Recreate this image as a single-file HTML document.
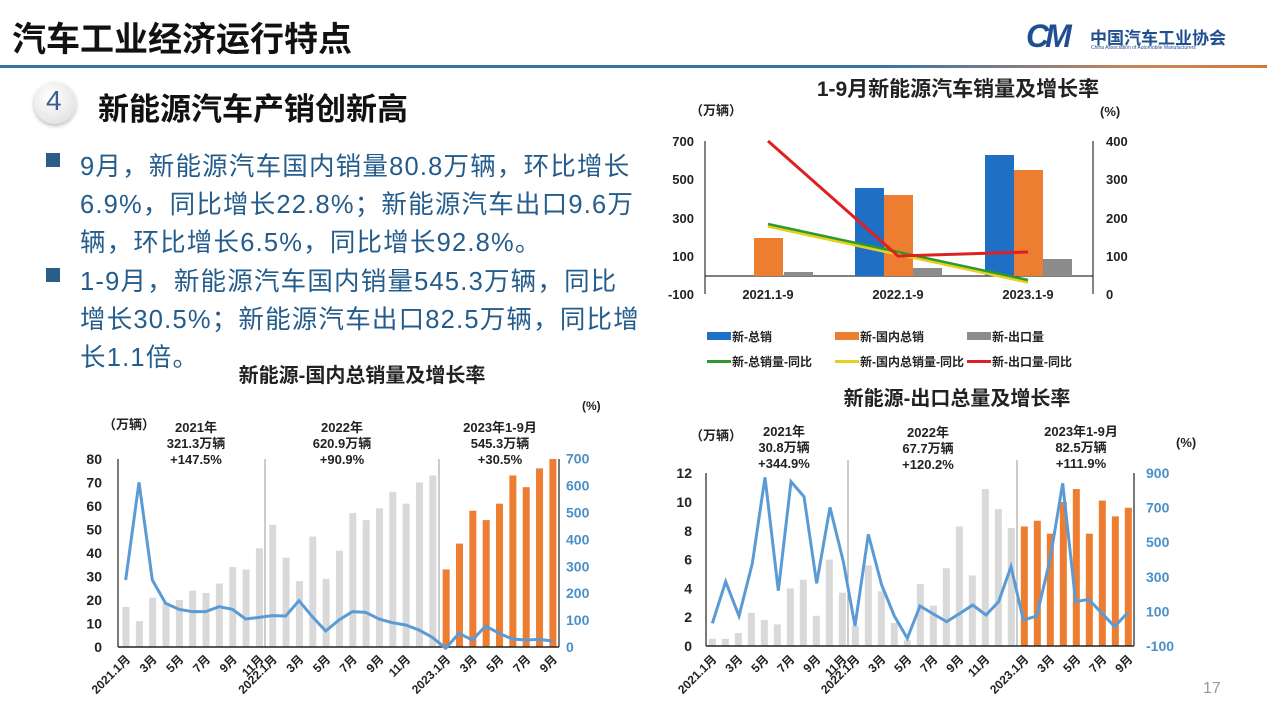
<!DOCTYPE html>
<html><head><meta charset="utf-8">
<style>
html,body{margin:0;padding:0;background:#fff;}
body{width:1267px;height:709px;overflow:hidden;position:relative;font-family:"Liberation Sans","Noto Sans CJK SC",sans-serif;}
.t{position:absolute;white-space:nowrap;}
.bl{font-size:25.5px;letter-spacing:1.2px;color:#245c8c;}
svg text{font-family:"Liberation Sans","Noto Sans CJK SC",sans-serif;}
</style></head><body>
<div class="t" style="left:12px;top:12px;font-size:34px;font-weight:bold;color:#111;">汽车工业经济运行特点</div>
<div style="position:absolute;left:0;top:65px;width:1267px;height:3px;background:linear-gradient(90deg,#3a73a8 0%,#3a73a8 70%,#c9855a 90%,#d07a3a 100%);"></div>
<div style="position:absolute;left:34px;top:82px;width:42px;height:42px;border-radius:50%;background:radial-gradient(circle at 40% 35%,#fff,#e6e6e6 70%,#cfcfcf);box-shadow:0 2px 4px #bbb;"></div>
<div class="t" style="left:46px;top:85px;font-size:28px;color:#3a5f8f;">4</div>
<div class="t" style="left:98px;top:84px;font-size:31px;font-weight:bold;color:#111;">新能源汽车产销创新高</div>
<div class="t" style="left:1026px;top:18px;font-size:32px;font-weight:bold;font-style:italic;letter-spacing:-4px;color:#1f4f8f;">CM</div>
<div class="t" style="left:1090px;top:24px;font-size:17px;font-weight:bold;color:#1f4f8f;">中国汽车工业协会</div>
<div class="t" style="left:1091px;top:45px;font-size:5px;color:#1f4f8f;">China Association of Automobile Manufacturers</div>

<div class="t" style="left:46px;top:153px;width:14px;height:14px;background:#2c5c88;"></div>
<div class="t bl" style="left:80px;top:146px;">9月，新能源汽车国内销量80.8万辆，环比增长</div>
<div class="t bl" style="left:80px;top:184px;">6.9%，同比增长22.8%；新能源汽车出口9.6万</div>
<div class="t bl" style="left:80px;top:222px;">辆，环比增长6.5%，同比增长92.8%。</div>
<div class="t" style="left:46px;top:268px;width:14px;height:14px;background:#2c5c88;"></div>
<div class="t bl" style="left:80px;top:261px;">1-9月，新能源汽车国内销量545.3万辆，同比</div>
<div class="t bl" style="left:80px;top:299px;">增长30.5%；新能源汽车出口82.5万辆，同比增</div>
<div class="t bl" style="left:80px;top:337px;">长1.1倍。</div>
<div class="t" style="left:1203px;top:680px;font-size:16px;color:#999;">17</div>

<svg id="s" width="1267" height="709" style="position:absolute;left:0;top:0" xmlns="http://www.w3.org/2000/svg">
<g font-weight="bold" fill="#222">
<text x="958" y="96" font-size="21" text-anchor="middle">1-9月新能源汽车销量及增长率</text>
<text x="690" y="115" font-size="13">（万辆）</text>
<text x="1100" y="116" font-size="13">(%)</text>
<g font-size="13" text-anchor="end">
<text x="694" y="146">700</text><text x="694" y="184">500</text><text x="694" y="223">300</text><text x="694" y="261">100</text><text x="694" y="299">-100</text></g>
<g font-size="13">
<text x="1106" y="146">400</text><text x="1106" y="184">300</text><text x="1106" y="223">200</text><text x="1106" y="261">100</text><text x="1106" y="299">0</text></g>
<g font-size="13" text-anchor="middle"><text x="768" y="299">2021.1-9</text><text x="898" y="299">2022.1-9</text><text x="1028" y="299">2023.1-9</text></g>
<g font-size="12">
<rect x="707" y="332" width="24" height="8" fill="#1f6fc5"/><text x="732" y="341">新-总销</text>
<rect x="835" y="332" width="24" height="8" fill="#ed7d31"/><text x="860" y="341">新-国内总销</text>
<rect x="967" y="332" width="24" height="8" fill="#8c8c8c"/><text x="992" y="341">新-出口量</text>
<rect x="707" y="360" width="24" height="3" fill="#2e9a2e"/><text x="732" y="366">新-总销量-同比</text>
<rect x="835" y="360" width="24" height="3" fill="#e5d020"/><text x="860" y="366">新-国内总销量-同比</text>
<rect x="967" y="360" width="24" height="3" fill="#e02020"/><text x="992" y="366">新-出口量-同比</text></g>

<text x="362" y="382" font-size="20" text-anchor="middle">新能源-国内总销量及增长率</text>
<text x="103" y="429" font-size="13">（万辆）</text>
<text x="582" y="410" font-size="12">(%)</text>
<g font-size="13" text-anchor="middle">
<text x="196" y="432">2021年</text><text x="196" y="448">321.3万辆</text><text x="196" y="464">+147.5%</text>
<text x="342" y="432">2022年</text><text x="342" y="448">620.9万辆</text><text x="342" y="464">+90.9%</text>
<text x="500" y="432">2023年1-9月</text><text x="500" y="448">545.3万辆</text><text x="500" y="464">+30.5%</text></g>
<g font-size="14" text-anchor="end" id="blL"></g>
<g font-size="14" fill="#4a90c8" id="blR"></g>
<g font-size="12" id="blX"></g>

<text x="957" y="405" font-size="20" text-anchor="middle">新能源-出口总量及增长率</text>
<text x="690" y="440" font-size="13">（万辆）</text>
<text x="1176" y="447" font-size="13">(%)</text>
<g font-size="13" text-anchor="middle">
<text x="784" y="436">2021年</text><text x="784" y="452">30.8万辆</text><text x="784" y="468">+344.9%</text>
<text x="928" y="437">2022年</text><text x="928" y="453">67.7万辆</text><text x="928" y="469">+120.2%</text>
<text x="1081" y="436">2023年1-9月</text><text x="1081" y="452">82.5万辆</text><text x="1081" y="468">+111.9%</text></g>
<g font-size="14" text-anchor="end" id="brL"></g>
<g font-size="14" fill="#4a90c8" id="brR"></g>
<g font-size="12" id="brX"></g>
</g>
<g id="geo"></g>
</svg>
<script>
var NS="http://www.w3.org/2000/svg",g=document.getElementById('geo');
function el(t,a,p){var e=document.createElementNS(NS,t);for(var k in a)e.setAttribute(k,a[k]);(p||g).appendChild(e);return e;}
function tx(p,x,y,s,a){var e=el('text',Object.assign({x:x,y:y},a||{}),document.getElementById(p));e.textContent=s;}
el('line',{x1:705,y1:141,x2:705,y2:294,stroke:'#333','stroke-width':1.2});
el('line',{x1:1093,y1:141,x2:1093,y2:294,stroke:'#333','stroke-width':1.2});
el('line',{x1:705,y1:276,x2:1093,y2:276,stroke:'#333','stroke-width':1.2});
[[754,238,'#ed7d31'],[784,272,'#8c8c8c'],[855,188,'#1f6fc5'],[884,195,'#ed7d31'],[913,268,'#8c8c8c'],[985,155,'#1f6fc5'],[1014,170,'#ed7d31'],[1043,259,'#8c8c8c']].forEach(function(b){el('rect',{x:b[0],y:b[1],width:29,height:276-b[1],fill:b[2]});});
el('polyline',{points:'768,226 1028,282',fill:'none',stroke:'#e5d020','stroke-width':3.5});
el('polyline',{points:'768,224 1028,280',fill:'none',stroke:'#2e9a2e','stroke-width':2.5});
el('polyline',{points:'768,141 898,256 1028,252',fill:'none',stroke:'#e02020','stroke-width':3});
var gv=[17,11,21,19,20,24,23,27,34,33,42,52,38,28,47,29,41,57,54,59,66,61,70,73],ov=[33,44,58,54,61,73,68,76,80];
gv.forEach(function(v,i){var x=126+i*13.34,h=v*2.35;el('rect',{x:x-3.5,y:647-h,width:7,height:h,fill:'#d9d9d9'});});
ov.forEach(function(v,i){var x=126+(i+24)*13.34,h=v*2.35;el('rect',{x:x-3.5,y:647-h,width:7,height:h,fill:'#ed7d31'});});
el('line',{x1:265,y1:459,x2:265,y2:647,stroke:'#555','stroke-width':0.6});
el('line',{x1:439,y1:459,x2:439,y2:647,stroke:'#555','stroke-width':0.6});
el('line',{x1:118,y1:459,x2:118,y2:647,stroke:'#222','stroke-width':1.2});
el('line',{x1:559,y1:459,x2:559,y2:647,stroke:'#222','stroke-width':1.2});
el('line',{x1:118,y1:647,x2:559,y2:647,stroke:'#222','stroke-width':1.5});
var lz=[[137,540],[177,247],[217,540],[257,610],[297,628],[337,635],[377,635],[417,620],[457,628],[497,657],[537,652],[577,647],[617,648],[657,602],[697,650],[737,693],[777,660],[817,635],[857,637],[897,657],[937,668],[977,675],[1017,690],[1057,712],[1097,745],[1137,700],[1177,720],[1217,678],[1257,700],[1297,717],[1337,720],[1377,718],[1418,723]];
el('polyline',{points:lz.map(function(p){return (80+p[0]/3)+','+(400+p[1]/3)}).join(' '),fill:'none',stroke:'#5b9bd5','stroke-width':3});
for(var i=0;i<=8;i++)tx('blL',102,652-i*23.5,String(i*10));
for(var i=0;i<=7;i++)tx('blR',566,652-i*26.9,String(i*100));
var lab=['2021.1月','3月','5月','7月','9月','11月','2022.1月','3月','5月','7月','9月','11月','2023.1月','3月','5月','7月','9月'];
var idx=[0,2,4,6,8,10,11,13,15,17,19,21,24,26,28,30,32];
idx.forEach(function(k,j){var x=126+k*13.34+5;tx('blX',x,660,lab[j],{'text-anchor':'end',transform:'rotate(-45 '+x+' 660)'});});
var gv2=[0.5,0.5,0.9,2.3,1.8,1.5,4.0,4.6,2.1,6.0,3.7,1.4,5.6,3.8,1.6,0.4,4.3,2.8,5.4,8.3,4.9,10.9,9.5,8.2],ov2=[8.3,8.7,7.8,10.0,10.9,7.8,10.1,9.0,9.6];
var bx0=660+157/3,bs=13;
gv2.forEach(function(v,i){var h=v*14.4;el('rect',{x:bx0+i*bs-3.5,y:646-h,width:7,height:h,fill:'#d9d9d9'});});
ov2.forEach(function(v,i){var h=v*14.4;el('rect',{x:bx0+(i+24)*bs-3.5,y:646-h,width:7,height:h,fill:'#ed7d31'});});
el('line',{x1:848,y1:460,x2:848,y2:646,stroke:'#555','stroke-width':0.6});
el('line',{x1:1017,y1:460,x2:1017,y2:646,stroke:'#555','stroke-width':0.6});
el('line',{x1:706,y1:473,x2:706,y2:646,stroke:'#222','stroke-width':1.2});
el('line',{x1:1134,y1:473,x2:1134,y2:646,stroke:'#222','stroke-width':1.2});
el('line',{x1:706,y1:646,x2:1134,y2:646,stroke:'#222','stroke-width':1.5});
var rz=[[157,670],[197,545],[237,648],[277,490],[315,232],[355,572],[393,245],[432,290],[470,550],[510,322],[550,485],[585,678],[625,403],[665,555],[703,648],[742,715],[780,618],[820,642],[860,665],[900,640],[938,615],[978,645],[1016,605],[1053,500],[1090,660],[1130,648],[1170,480],[1208,250],[1247,605],[1286,598],[1326,640],[1364,680],[1403,638]];
el('polyline',{points:rz.map(function(p){return (660+p[0]/3)+','+(400+p[1]/3)}).join(' '),fill:'none',stroke:'#5b9bd5','stroke-width':3});
for(var i=0;i<=6;i++)tx('brL',692,651-i*28.8,String(i*2));
var rv=[-100,100,300,500,700,900];
for(var i=0;i<6;i++)tx('brR',1146,651-i*34.6,String(rv[i]));
idx.forEach(function(k,j){var x=bx0+k*bs+5;tx('brX',x,660,lab[j],{'text-anchor':'end',transform:'rotate(-45 '+x+' 660)'});});
</script>
</body></html>
